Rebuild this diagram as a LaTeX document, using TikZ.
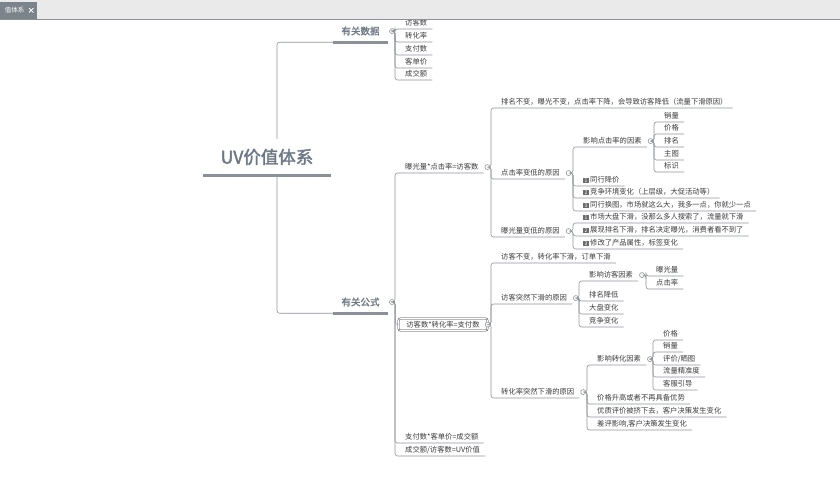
\documentclass[tikz,border=0pt]{standalone}
\usepackage{fontspec}
\setmainfont{Noto Sans CJK SC}[AutoFakeBold=2]
\usepackage{tikz}
\usetikzlibrary{positioning}
\definecolor{linegray}{HTML}{8F969D}
\definecolor{bargray}{HTML}{8A9199}
\definecolor{txtgray}{HTML}{3C3C3C}
\definecolor{catgray}{HTML}{6F7A84}
\definecolor{rootgray}{HTML}{6C7885}
\definecolor{numgray}{HTML}{6B6B6B}
\definecolor{topbg}{HTML}{EAEAEA}
\definecolor{tabgray}{HTML}{7B838B}
\newcommand\nb[1]{{\setlength{\fboxsep}{0.5pt}\colorbox{numgray}{\makebox[4.5pt]{\color{white}\fontsize{5}{5}\selectfont #1}}}\hspace{1.5pt}}

\begin{document}
\begin{tikzpicture}[x=1pt, y=-1pt, link/.style={draw=linegray, line width=0.6pt, rounded corners=2.5pt}]
    \tikzstyle{leaf}=[anchor=south west, inner xsep=5pt, inner ysep=2pt, text height=6pt, text depth=1.5pt, font=\fontsize{7.3}{8}\selectfont, text=txtgray]
    \tikzstyle{cat}=[inner sep=0pt, minimum width=55pt, minimum height=22pt, font=\fontsize{9.5}{11}\selectfont\bfseries, text=catgray]
    \tikzstyle{root}=[inner sep=0pt, minimum width=128pt, minimum height=36pt, font=\fontsize{17.5}{20}\selectfont\bfseries, text=rootgray]
    \tikzstyle{fold}=[circle, draw=linegray, fill=white, line width=0.6pt, inner sep=0pt, minimum size=5pt]
    \tikzstyle{bar}=[draw=bargray, line width=3pt]
    \tikzstyle{selbox}=[draw=txtgray, double, double distance=0.8pt, line width=0.5pt, rounded corners=2pt, minimum width=89pt, minimum height=12pt, inner sep=1pt, font=\fontsize{7.3}{8}\selectfont, text=txtgray]

    \useasboundingbox (0,0) rectangle (840,480);
    \fill[white] (0,0) rectangle (840,480);

    \node[root] (uv) at (267,157) {UV价值体系};
    \coordinate (rt) at (277,0);
    \node[cat] (data) at (360.5,31) {有关数据};
    \node[cat] (formula) at (360.5,302) {有关公式};
    \node[fold, right=1pt of data] (data-f) {};
    \node[fold, right=1pt of formula] (formula-f) {};

    \node[leaf] (d1) at (400,29) {访客数};
    \node[leaf] (d2) at (400,42) {转化率};
    \node[leaf] (d3) at (400,55) {支付数};
    \node[leaf] (d4) at (400,68) {客单价};
    \node[leaf] (d5) at (400,80) {成交额};

    \node[leaf] (f1) at (400,173) {曝光量*点击率=访客数};
    \node[selbox] (f2) at (443,324.5) {访客数*转化率=支付数};
    \node[leaf] (f3) at (400,443) {支付数*客单价=成交额};
    \node[leaf] (f4) at (400,456) {成交额/访客数=UV价值};
    \node[fold, right=1pt of f1] (f1-f) {};
    \node[fold] (f2-f) at (f2.east) {};

    \node[leaf] (a1) at (496,108) {排名不变，曝光不变，点击率下降，会导致访客降低（流量下滑原因）};
    \node[leaf] (a2) at (496,179) {点击率变低的原因};
    \node[leaf] (a3) at (496,237) {曝光量变低的原因};
    \node[fold, right=1pt of a2] (a2-f) {};
    \node[fold, right=1pt of a3] (a3-f) {};

    \node[leaf] (b1) at (578,147) {影响点击率的因素};
    \node[leaf] (b2) at (578,186) {\nb{1}同行降价};
    \node[leaf] (b3) at (578,198) {\nb{2}竞争环境变化（上层级，大促活动等）};
    \node[leaf] (b4) at (578,211) {\nb{3}同行换图，市场就这么大，我多一点，你就少一点};
    \node[fold, right=1pt of b1] (b1-f) {};

    \node[leaf] (c1) at (659,122) {销量};
    \node[leaf] (c2) at (659,134) {价格};
    \node[leaf] (c3) at (659,147) {排名};
    \node[leaf] (c4) at (659,160) {主图};
    \node[leaf] (c5) at (659,172) {标识};

    \node[leaf] (e1) at (578,223) {\nb{1}市场大盘下滑，没那么多人搜索了，流量就下滑};
    \node[leaf] (e2) at (578,236) {\nb{2}展现排名下滑，排名决定曝光，消费者看不到了};
    \node[leaf] (e3) at (578,249) {\nb{3}修改了产品属性，标签变化};

    \node[leaf] (k1) at (496,263) {访客不变，转化率下滑，订单下滑};
    \node[leaf] (k2) at (496,304) {访客突然下滑的原因};
    \node[leaf] (k3) at (496,398) {转化率突然下滑的原因};
    \node[fold, right=1pt of k2] (k2-f) {};
    \node[fold, right=1pt of k3] (k3-f) {};

    \node[leaf] (m1) at (584,281) {影响访客因素};
    \node[leaf] (m2) at (584,301) {排名降低};
    \node[leaf] (m3) at (584,314) {大盘变化};
    \node[leaf] (m4) at (584,327) {竞争变化};
    \node[fold, right=1pt of m1] (m1-f) {};

    \node[leaf] (p1) at (651,276) {曝光量};
    \node[leaf] (p2) at (651,289) {点击率};

    \node[leaf] (n1) at (592,365) {影响转化因素};
    \node[leaf] (n2) at (592,404) {价格升高或者不再具备优势};
    \node[leaf] (n3) at (592,417) {优质评价被挤下去，客户决策发生变化};
    \node[leaf] (n4) at (592,430) {差评影响,客户决策发生变化};
    \node[fold, right=1pt of n1] (n1-f) {};

    \node[leaf] (q1) at (658,340) {价格};
    \node[leaf] (q2) at (658,352) {销量};
    \node[leaf] (q3) at (658,365) {评价/晒图};
    \node[leaf] (q4) at (658,377) {流量精准度};
    \node[leaf] (q5) at (658,390) {客服引导};

    \draw[link] (uv.north -| rt) |- (data.south west);
    \draw[link] (uv.south -| rt) |- (formula.south west);
    \draw[bar] (uv.south west) -- (uv.south east);
    \draw[bar] (data.south west) -- (data.south east);
    \draw[bar] (formula.south west) -- (formula.south east);

    \foreach \n in {d1,d2,d3,d4,d5}
        \draw[link] (data-f.east) -| ([xshift=-5pt]\n.south west) -- (\n.south east);
    \foreach \n in {f1,f3,f4}
        \draw[link] (formula-f.east) -| ([xshift=-5pt]\n.south west) -- (\n.south east);
    \draw[link] (formula-f.east) -| ([xshift=-3pt]f2.west) -- (f2.west);
    \foreach \n in {a1,a2,a3}
        \draw[link] (f1-f.east) -| ([xshift=-5pt]\n.south west) -- (\n.south east);
    \foreach \n in {b1,b2,b3,b4}
        \draw[link] (a2-f.east) -| ([xshift=-5pt]\n.south west) -- (\n.south east);
    \foreach \n in {c1,c2,c3,c4,c5}
        \draw[link] (b1-f.east) -| ([xshift=-5pt]\n.south west) -- (\n.south east);
    \foreach \n in {e1,e2,e3}
        \draw[link] (a3-f.east) -| ([xshift=-5pt]\n.south west) -- (\n.south east);
    \foreach \n in {k1,k2,k3}
        \draw[link] (f2-f.east) -| ([xshift=-5pt]\n.south west) -- (\n.south east);
    \foreach \n in {m1,m2,m3,m4}
        \draw[link] (k2-f.east) -| ([xshift=-5pt]\n.south west) -- (\n.south east);
    \foreach \n in {p1,p2}
        \draw[link] (m1-f.east) -| ([xshift=-5pt]\n.south west) -- (\n.south east);
    \foreach \n in {n1,n2,n3,n4}
        \draw[link] (k3-f.east) -| ([xshift=-5pt]\n.south west) -- (\n.south east);
    \foreach \n in {q1,q2,q3,q4,q5}
        \draw[link] (n1-f.east) -| ([xshift=-5pt]\n.south west) -- (\n.south east);

    \fill[topbg] (0,0) rectangle (840,19);
    \draw[bargray, line width=1.5pt] (0,19.5) -- (840,19.5);
    \fill[tabgray] (0,2) rectangle (37,19);
    \node[anchor=east, inner sep=0pt, font=\fontsize{6.5}{7}\selectfont, text=white] (tab) at (24.5,10.5) {值体系};
    \node[anchor=west, inner sep=0pt, font=\fontsize{7}{7}\selectfont\bfseries, text=white] (tab-x) at (27.5,10.5) {×};
\end{tikzpicture}
\end{document}
